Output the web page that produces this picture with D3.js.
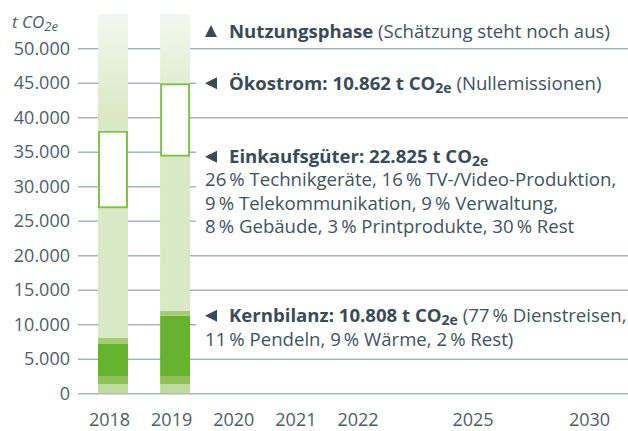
<!DOCTYPE html>
<html lang="de">
<head>
<meta charset="utf-8">
<title>CO2e Bilanz</title>
<script src="https://d3js.org/d3.v7.min.js"></script>
<style>
  body { margin: 0; background: #fff; }
  svg text { font-family: "Open Sans", "Noto Sans", sans-serif; }
  .axis text { font-size: 18px; fill: #4e5d69; }
  .axis .domain { display: none; }
  .axis line { stroke: #a9b3bd; stroke-width: 1.5px; }
  .note { font-size: 18.6px; fill: #425260; }
  .note .b { font-weight: bold; fill: #3a4b57; }
</style>
</head>
<body>
<div id="vis"></div>
<script>
// values (t CO2e, stacked from bottom)
const years = [2018, 2019];
const kernBase = [1350, 1350];
const kernLow = [1160, 1160];
const kernMain = [4635, 8736];
const kernTop = [870, 725];
const einkauf = [18800, 22320];
const oekostrom = [11246, 10638];
const nutzung = [16939, 10071];

const tickYears = [2018, 2019, 2020, 2021, 2022, 2025, 2030];
const yTicks = [0, 5000, 10000, 15000, 20000, 25000, 30000, 35000, 40000, 45000, 50000];

const noteLevels = [52500, 44929, 34291, 11246];
const notes = [
  { arrow: "up", lines: [[["Nutzungsphase", 1], [" (Schätzung steht noch aus)", 0]]] },
  { arrow: "left", lines: [[["Ökostrom: 10.862 t CO", 1], ["2e", 1, "sub"], [" (Nullemissionen)", 0]]] },
  { arrow: "left", lines: [
      [["Einkaufsgüter: 22.825 t CO", 1], ["2e", 1, "sub"]],
      [["26\u2009% Technikgeräte, 16\u2009% TV-/Video-Produktion,", 0]],
      [["9\u2009% Telekommunikation, 9\u2009% Verwaltung,", 0]],
      [["8\u2009% Gebäude, 3\u2009% Printprodukte, 30\u2009% Rest", 0]]] },
  { arrow: "left", lines: [
      [["Kernbilanz: 10.808 t CO", 1], ["2e", 1, "sub"], [" (77\u2009% Dienstreisen,", 0]],
      [["11\u2009% Pendeln, 9\u2009% Wärme, 2\u2009% Rest)", 0]]] }
];

const keys = ["kernBase", "kernLow", "kernMain", "kernTop", "einkauf", "oekostrom", "nutzung"];
const colors = {
  kernBase: "#c0dc9c", kernLow: "#8fc156", kernMain: "#67b22f", kernTop: "#a4ca74",
  einkauf: "#d9e8c5", oekostrom: "#ffffff", nutzung: "url(#fade)"
};

const width = 628, height = 431;
const left = 78;

const table = years.map((y, i) => ({
  year: y, kernBase: kernBase[i], kernLow: kernLow[i], kernMain: kernMain[i],
  kernTop: kernTop[i], einkauf: einkauf[i], oekostrom: oekostrom[i], nutzung: nutzung[i]
}));
const series = d3.stack().keys(keys)(table);

// later years are squeezed together on the axis
const x = d3.scaleLinear()
  .domain([2018, 2022, 2025, 2030])
  .range([113, 361.5, 476.5, 593]);
const y = d3.scaleLinear().domain([0, 50000]).range([393.3, 48.3]);
const bw = 30;

const de = d3.formatLocale({ decimal: ",", thousands: ".", grouping: [3], currency: ["", "€"] });

const svg = d3.select("#vis").append("svg")
  .attr("width", width)
  .attr("height", height);

const grad = svg.append("defs").append("linearGradient")
  .attr("id", "fade")
  .attr("gradientUnits", "userSpaceOnUse")
  .attr("x1", 0).attr("x2", 0)
  .attr("y1", y(55000)).attr("y2", y(40000));
grad.append("stop").attr("offset", 0).attr("stop-color", "#f3f8ee");
grad.append("stop").attr("offset", 1).attr("stop-color", "#d9e8c5");

// y axis with gridlines
svg.append("g")
  .attr("class", "axis")
  .attr("transform", `translate(${left},0)`)
  .call(d3.axisLeft(y).tickValues(yTicks).tickSize(-(width - left)).tickPadding(8).tickFormat(de.format(",d")));

// x axis
const xAxis = svg.append("g")
  .attr("class", "axis")
  .attr("transform", `translate(0,${y(0)})`)
  .call(d3.axisBottom(x).tickValues(tickYears).tickSize(0).tickPadding(20).tickFormat(d3.format("d")));
xAxis.selectAll("text").attr("dx", -4);

// stacked bars
svg.append("g").selectAll("g")
  .data(series)
  .join("g")
  .attr("fill", d => colors[d.key])
  .attr("stroke", d => d.key === "oekostrom" ? "#7dc24b" : null)
  .attr("stroke-width", d => d.key === "oekostrom" ? 2 : null)
  .selectAll("rect")
  .data(d => d.map(v => Object.assign(v, { key: d.key })))
  .join("rect")
  .attr("x", d => x(d.data.year) - bw / 2 + (d.key === "oekostrom" ? 1 : 0))
  .attr("width", d => bw - (d.key === "oekostrom" ? 2 : 0))
  .attr("y", d => y(d[1]) + (d.key === "oekostrom" ? 1 : 0))
  .attr("height", d => y(d[0]) - y(d[1]) - (d.key === "oekostrom" ? 2 : 0));

// axis title
const ttl = svg.append("text")
  .attr("x", 12).attr("y", 28)
  .attr("font-size", 17)
  .attr("font-style", "italic")
  .attr("fill", "#4e5d69");
ttl.append("tspan").text("t CO");
ttl.append("tspan").attr("font-size", 13).attr("dy", 3).text("2e");

// annotations
const lh = 23.3;
notes.forEach((n, i) => {
  const c = y(noteLevels[i]);
  const g = svg.append("g").attr("class", "note");
  g.append("rect")
    .attr("x", 196).attr("y", c - 14)
    .attr("width", width - 196)
    .attr("height", (n.lines.length - 1) * lh + 27)
    .attr("fill", "#fff");
  g.append("path")
    .attr("d", n.arrow === "up"
      ? `M205,${c + 6}L217,${c + 6}L211,${c - 6}Z`
      : `M205,${c}L217,${c - 6}L217,${c + 6}Z`)
    .attr("fill", "#3a4b57");
  n.lines.forEach((parts, j) => {
    const t = g.append("text")
      .attr("x", j === 0 ? 229 : 205)
      .attr("y", c + 6.5 + j * lh);
    let shifted = false;
    parts.forEach(p => {
      const s = t.append("tspan").text(p[0]).attr("class", p[1] ? "b" : null);
      if (p[2] === "sub") {
        s.attr("font-size", 14).attr("dy", 3);
        shifted = true;
      } else if (shifted) {
        s.attr("dy", -3);
        shifted = false;
      }
    });
  });
});
</script>
</body>
</html>
